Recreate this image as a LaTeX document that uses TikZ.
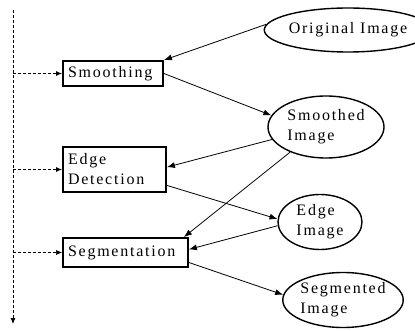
\documentclass[tikz,border=0pt]{standalone}
\usepackage{fontspec}
\setmainfont[LetterSpace=11]{Liberation Serif}
\usetikzlibrary{arrows.meta,shapes.geometric,calc}
\begin{document}
\begin{tikzpicture}[x=1pt,y=-1pt,
  lbl/.style={font=\fontsize{16}{20}\selectfont},
  proc/.style={lbl,draw,line width=1.8pt,rectangle,inner xsep=5pt,inner ysep=0pt,align=left},
  data/.style={lbl,draw,line width=1.4pt,ellipse,inner sep=0pt,align=left},
  flow/.style={-{Latex[length=8pt,width=6pt]},line width=0.8pt},
  ctl/.style={dash pattern=on 3pt off 2pt,line width=0.9pt,-{Latex[length=6pt,width=5pt]}}]
\useasboundingbox (0,0) rectangle (415,331);
% process boxes
\node[proc,text width=90pt,minimum height=25pt] (smooth) at (113,73.5) {Smoothing};
\node[proc,text width=93pt,minimum height=45pt] (edet) at (114.5,169.5) {Edge\\Detection};
\node[proc,text width=115pt,minimum height=29pt] (seg) at (125.5,252.5) {Segmentation};
% data ellipses
\node[data,minimum width=132pt,minimum height=44pt] (orig) at (348,30) {Original Image};
\node[data,minimum width=116pt,minimum height=62pt] (smoothed) at (326,127) {Smoothed\\Image};
\node[data,minimum width=84pt,minimum height=55pt] (edgeimg) at (320,222) {Edge\\Image};
\node[data,minimum width=120pt,minimum height=55pt] (segimg) at (343,300) {Segmented\\Image};
% control line
\coordinate (top) at (13,10);
\coordinate (bot) at (13,324);
\draw[ctl] (top) -- (bot);
\draw[ctl] (top |- smooth.west) -- (smooth.west);
\draw[ctl] (top |- edet.west) -- (edet.west);
\draw[ctl,line width=0.6pt] (top |- seg.west) -- (seg.west);
% data flow
\draw[flow] (orig.176) -- (smooth.north east);
\draw[flow] (smooth.east) -- (smoothed.168);
\draw[flow] (smoothed.193) -- ($(edet.east)!0.1!(edet.north east)$);
\draw[flow] (smoothed.215) -- ([xshift=-5pt]seg.north east);
\draw[flow] ($(edet.east)!0.68!(edet.south east)$) -- (edgeimg.176);
\draw[flow] (edgeimg.185) -- ($(seg.east)!0.2!(seg.north east)$);
\draw[flow] ($(seg.east)!0.65!(seg.south east)$) -- (segimg.175);
\end{tikzpicture}
\end{document}
